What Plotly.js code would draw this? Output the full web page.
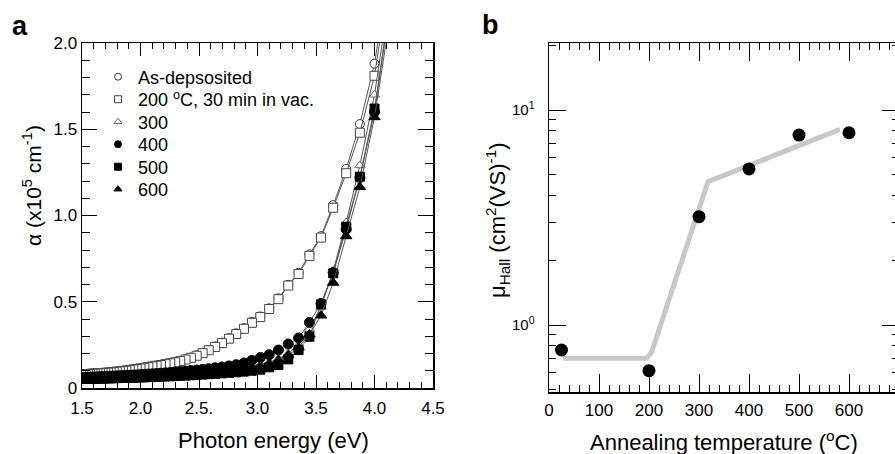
<!DOCTYPE html>
<html>
<head>
<meta charset="utf-8">
<script src="https://cdn.plot.ly/plotly-3.0.1.min.js"></script>
<style>
html,body{margin:0;padding:0;overflow:hidden;background:#fff;}
#chart{width:905px;height:454px;}
</style>
</head>
<body>
<div id="chart"></div>
<script>
// ---------- Panel a: absorption coefficient vs photon energy ----------
const photonEnergy = [4.133, 4.0, 3.875, 3.758, 3.647, 3.543, 3.444, 3.351, 3.263, 3.179,
  3.1, 3.024, 2.952, 2.884, 2.818, 2.756, 2.696, 2.638, 2.583, 2.531,
  2.48, 2.431, 2.385, 2.34, 2.296, 2.255, 2.214, 2.175, 2.138, 2.102,
  2.067, 2.033, 2.0, 1.968, 1.938, 1.908, 1.879, 1.851, 1.824, 1.797,
  1.771, 1.746, 1.722, 1.699, 1.676, 1.653, 1.632, 1.61, 1.59, 1.57,
  1.55, 1.531, 1.512, 1.494];

const alphaAsDeposited = [2.45, 1.88, 1.53, 1.27, 1.06, 0.88, 0.775, 0.668, 0.598, 0.52,
  0.462, 0.415, 0.384, 0.347, 0.317, 0.289, 0.263, 0.241, 0.221, 0.204,
  0.189, 0.177, 0.167, 0.158, 0.151, 0.145, 0.14, 0.135, 0.131, 0.127,
  0.123, 0.119, 0.115, 0.112, 0.109, 0.106, 0.103, 0.1, 0.098, 0.096,
  0.094, 0.092, 0.09, 0.089, 0.088, 0.087, 0.086, 0.085, 0.084, 0.083,
  0.082, 0.081, 0.08, 0.079];

const alpha200 = [2.4, 1.81, 1.48, 1.245, 1.045, 0.872, 0.766, 0.661, 0.594, 0.515,
  0.458, 0.411, 0.378, 0.343, 0.313, 0.286, 0.26, 0.238, 0.219, 0.202,
  0.187, 0.175, 0.165, 0.156, 0.149, 0.143, 0.138, 0.133, 0.129, 0.125,
  0.121, 0.117, 0.113, 0.11, 0.107, 0.104, 0.101, 0.099, 0.097, 0.095,
  0.093, 0.091, 0.089, 0.088, 0.087, 0.086, 0.085, 0.084, 0.083, 0.082,
  0.081, 0.08, 0.079, 0.078];

const alpha300 = [2.3, 1.7, 1.29, 0.96, 0.68, 0.47, 0.34, 0.25, 0.2, 0.17,
  0.15, 0.135, 0.125, 0.117, 0.111, 0.106, 0.102, 0.098, 0.095, 0.092,
  0.09, 0.088, 0.086, 0.084, 0.082, 0.08, 0.079, 0.078, 0.077, 0.076,
  0.075, 0.074, 0.073, 0.072, 0.071, 0.07, 0.069, 0.068, 0.067, 0.066,
  0.066, 0.065, 0.064, 0.064, 0.063, 0.063, 0.062, 0.062, 0.061, 0.061,
  0.06, 0.06, 0.059, 0.059];

const alpha400 = [2.25, 1.6, 1.22, 0.92, 0.67, 0.49, 0.38, 0.29, 0.255, 0.22,
  0.193, 0.177, 0.16, 0.145, 0.135, 0.128, 0.122, 0.117, 0.112, 0.108,
  0.104, 0.101, 0.098, 0.095, 0.093, 0.09, 0.088, 0.086, 0.084, 0.082,
  0.081, 0.079, 0.078, 0.076, 0.075, 0.074, 0.073, 0.072, 0.071, 0.07,
  0.069, 0.068, 0.067, 0.066, 0.065, 0.065, 0.064, 0.063, 0.063, 0.062,
  0.062, 0.061, 0.061, 0.06];

const alpha500 = [2.2, 1.62, 1.225, 0.935, 0.665, 0.485, 0.297, 0.22, 0.166, 0.133,
  0.12, 0.106, 0.1, 0.095, 0.091, 0.088, 0.085, 0.082, 0.08, 0.078,
  0.076, 0.074, 0.072, 0.071, 0.069, 0.068, 0.067, 0.066, 0.065, 0.064,
  0.063, 0.062, 0.061, 0.06, 0.06, 0.059, 0.059, 0.058, 0.058, 0.057,
  0.057, 0.056, 0.056, 0.055, 0.055, 0.055, 0.054, 0.054, 0.054, 0.053,
  0.053, 0.053, 0.052, 0.052];

const alpha600 = [2.15, 1.57, 1.165, 0.88, 0.61, 0.42, 0.31, 0.235, 0.19, 0.16,
  0.14, 0.125, 0.115, 0.108, 0.102, 0.097, 0.093, 0.09, 0.087, 0.085,
  0.083, 0.081, 0.079, 0.077, 0.076, 0.074, 0.073, 0.072, 0.071, 0.07,
  0.069, 0.068, 0.067, 0.066, 0.065, 0.065, 0.064, 0.063, 0.063, 0.062,
  0.061, 0.061, 0.06, 0.06, 0.059, 0.059, 0.058, 0.058, 0.058, 0.057,
  0.057, 0.057, 0.056, 0.056];

const seriesNames = ['As-depsosited', '200 <sup>o</sup>C, 30 min in vac.', '300', '400', '500', '600'];

const energyTickVals = [1.5, 2.0, 2.5, 3.0, 3.5, 4.0, 4.5];
const energyTickText = ['1.5', '2.0', '2.5.', '3.0', '3.5', '4.0', '4.5'];
const alphaTickVals = [0, 0.5, 1.0, 1.5, 2.0];
const alphaTickText = ['0', '0.5', '1.0', '1.5', '2.0'];

// ---------- Panel b: Hall mobility vs annealing temperature ----------
const annealTemp = [25, 200, 300, 400, 500, 600];
const hallMobility = [0.765, 0.613, 3.19, 5.32, 7.65, 7.84];
const guideTemp = [28, 195, 205, 318, 582];
const guideMobility = [0.70, 0.70, 0.745, 4.64, 8.13];

const tempTickVals = [0, 100, 200, 300, 400, 500, 600];
const tempTickText = ['0', '100', '200', '300', '400', '500', '600'];
const mobTickVals = [1, 10];
const mobTickText = ['10<sup>0</sup>', '10<sup>1</sup>'];
const mobMinorVals = [0.5, 0.6, 0.7, 0.8, 0.9, 2, 3, 4, 5, 6, 7, 8, 9, 20];

// ---------- styles ----------
const FONT = 'Liberation Sans, Arial, Helvetica, sans-serif';
const styles = [
  {symbol: 'circle', size: 9, color: '#ffffff', line: '#333333'},
  {symbol: 'square', size: 9, color: '#ffffff', line: '#444444'},
  {symbol: 'triangle-up', size: 9, color: '#ffffff', line: '#666666'},
  {symbol: 'circle', size: 10, color: '#000000', line: '#000000'},
  {symbol: 'square', size: 9, color: '#000000', line: '#000000'},
  {symbol: 'triangle-up', size: 10, color: '#000000', line: '#000000'}
];
const alphaSeries = [alphaAsDeposited, alpha200, alpha300, alpha400, alpha500, alpha600];
const legendIds = ['legend', 'legend2', 'legend3', 'legend4', 'legend5', 'legend6'];

// pixel helpers for paper placement
const L = 82, W = 817, T = 43, H = 349;
const px = p => (p - L) / W;
const py = p => 1 - (p - T) / H;

const traces = [];
alphaSeries.forEach((vals, i) => {
  const s = styles[i];
  traces.push({
    x: photonEnergy, y: vals, xaxis: 'x', yaxis: 'y',
    type: 'scatter', mode: 'lines+markers', showlegend: false,
    line: {color: '#555555', width: 1},
    marker: {symbol: s.symbol, size: s.size, color: s.color, line: {color: s.line, width: 1}}
  });
});
// legend-only entries (marker only, as in the figure)
alphaSeries.forEach((vals, i) => {
  const s = styles[i];
  traces.push({
    x: [null], y: [null], xaxis: 'x', yaxis: 'y', name: seriesNames[i], legend: legendIds[i],
    type: 'scatter', mode: 'markers', showlegend: true,
    marker: {symbol: s.symbol, size: 7, color: s.color, line: {color: s.line, width: 1}}
  });
});
traces.push({
  x: guideTemp, y: guideMobility, xaxis: 'x2', yaxis: 'y2',
  type: 'scatter', mode: 'lines', showlegend: false,
  line: {color: '#c8c8c8', width: 5}
});
traces.push({
  x: annealTemp, y: hallMobility, xaxis: 'x2', yaxis: 'y2',
  type: 'scatter', mode: 'markers', showlegend: false,
  marker: {symbol: 'circle', size: 13, color: '#000000'}
});

const axisCommon = {
  showline: true, linecolor: '#000', linewidth: 1.5, mirror: 'allticks',
  ticks: 'inside', tickcolor: '#000', tickwidth: 1,
  showgrid: false, zeroline: false, fixedrange: true,
  tickfont: {family: FONT, size: 17, color: '#000'}
};

const layout = {
  width: 905, height: 454,
  margin: {l: L, r: 905 - L - W, t: T, b: 454 - T - H},
  paper_bgcolor: '#fff', plot_bgcolor: '#fff',
  font: {family: FONT, color: '#000'},
  showlegend: true,
  xaxis: Object.assign({}, axisCommon, {
    domain: [0, (433 - L) / W], anchor: 'y',
    range: [1.5, 4.5], tickvals: energyTickVals, ticktext: energyTickText, ticklen: 13,
    ticklabelstandoff: 4,
    minor: {dtick: 0.1, tick0: 1.5, ticks: 'inside', ticklen: 6, tickcolor: '#000', showgrid: false}
  }),
  yaxis: Object.assign({}, axisCommon, {
    domain: [(392 - 388) / H, 1], anchor: 'x',
    range: [0, 2], tickvals: alphaTickVals, ticktext: alphaTickText, ticklen: 15,
    minor: {dtick: 0.1, tick0: 0, ticks: 'inside', ticklen: 8, tickcolor: '#000', showgrid: false}
  }),
  xaxis2: Object.assign({}, axisCommon, {
    domain: [(549 - L) / W, 1], anchor: 'y2',
    range: [0, 700], tickvals: tempTickVals, ticktext: tempTickText, ticklen: 18,
    ticklabelstandoff: 2,
    minor: {dtick: 20, tick0: 0, ticks: 'inside', ticklen: 7, tickcolor: '#000', showgrid: false}
  }),
  yaxis2: Object.assign({}, axisCommon, {
    domain: [0, 1], anchor: 'x2', type: 'log',
    range: [-0.3116, 1.3118], tickvals: mobTickVals, ticktext: mobTickText, ticklen: 17,
    ticklabelstandoff: 10,
    tickfont: {family: FONT, size: 15, color: '#000'},
    minor: {tickvals: mobMinorVals, ticks: 'inside', ticklen: 7, tickcolor: '#000', showgrid: false}
  }),
  annotations: [
    {text: '<b>a</b>', xref: 'paper', yref: 'paper', x: px(10), y: py(26), xanchor: 'left', yanchor: 'middle',
     showarrow: false, font: {family: FONT, size: 27, color: '#000'}},
    {text: '<b>b</b>', xref: 'paper', yref: 'paper', x: px(480), y: py(25), xanchor: 'left', yanchor: 'middle',
     showarrow: false, font: {family: FONT, size: 27, color: '#000'}},
    {text: 'Photon energy (eV)', xref: 'paper', yref: 'paper', x: px(273), y: py(440), xanchor: 'center', yanchor: 'middle',
     showarrow: false, font: {family: FONT, size: 22, color: '#000'}},
    {text: 'Annealing temperature (<sup>o</sup>C)', xref: 'paper', yref: 'paper', x: px(724), y: py(441), xanchor: 'center', yanchor: 'middle',
     showarrow: false, font: {family: FONT, size: 22, color: '#000'}},
    {text: '\u03b1 (x10<sup>5</sup> cm<sup>-1</sup>)', xref: 'paper', yref: 'paper', x: px(32), y: py(186), xanchor: 'center', yanchor: 'middle',
     textangle: -90, showarrow: false, font: {family: FONT, size: 21, color: '#000'}},
    {text: '\u03bc<sub>Hall</sub> (cm<sup>2</sup>(VS)<sup>-1</sup>)', xref: 'paper', yref: 'paper', x: px(497), y: py(220), xanchor: 'center', yanchor: 'middle',
     textangle: -90, showarrow: false, font: {family: FONT, size: 22, color: '#000'}}
  ]
};

// one single-entry legend per series so the row spacing can follow the figure
const legendRowsPx = [77, 99.5, 122, 144.5, 167, 189.5];
legendIds.forEach((id, i) => {
  layout[id] = {
    x: px(98), y: py(legendRowsPx[i]), xanchor: 'left', yanchor: 'middle',
    bgcolor: 'rgba(0,0,0,0)', borderwidth: 0,
    font: {family: FONT, size: 18, color: '#000'},
    itemclick: false, itemdoubleclick: false
  };
});

Plotly.newPlot('chart', traces, layout, {displayModeBar: false, staticPlot: true});
</script>
</body>
</html>
